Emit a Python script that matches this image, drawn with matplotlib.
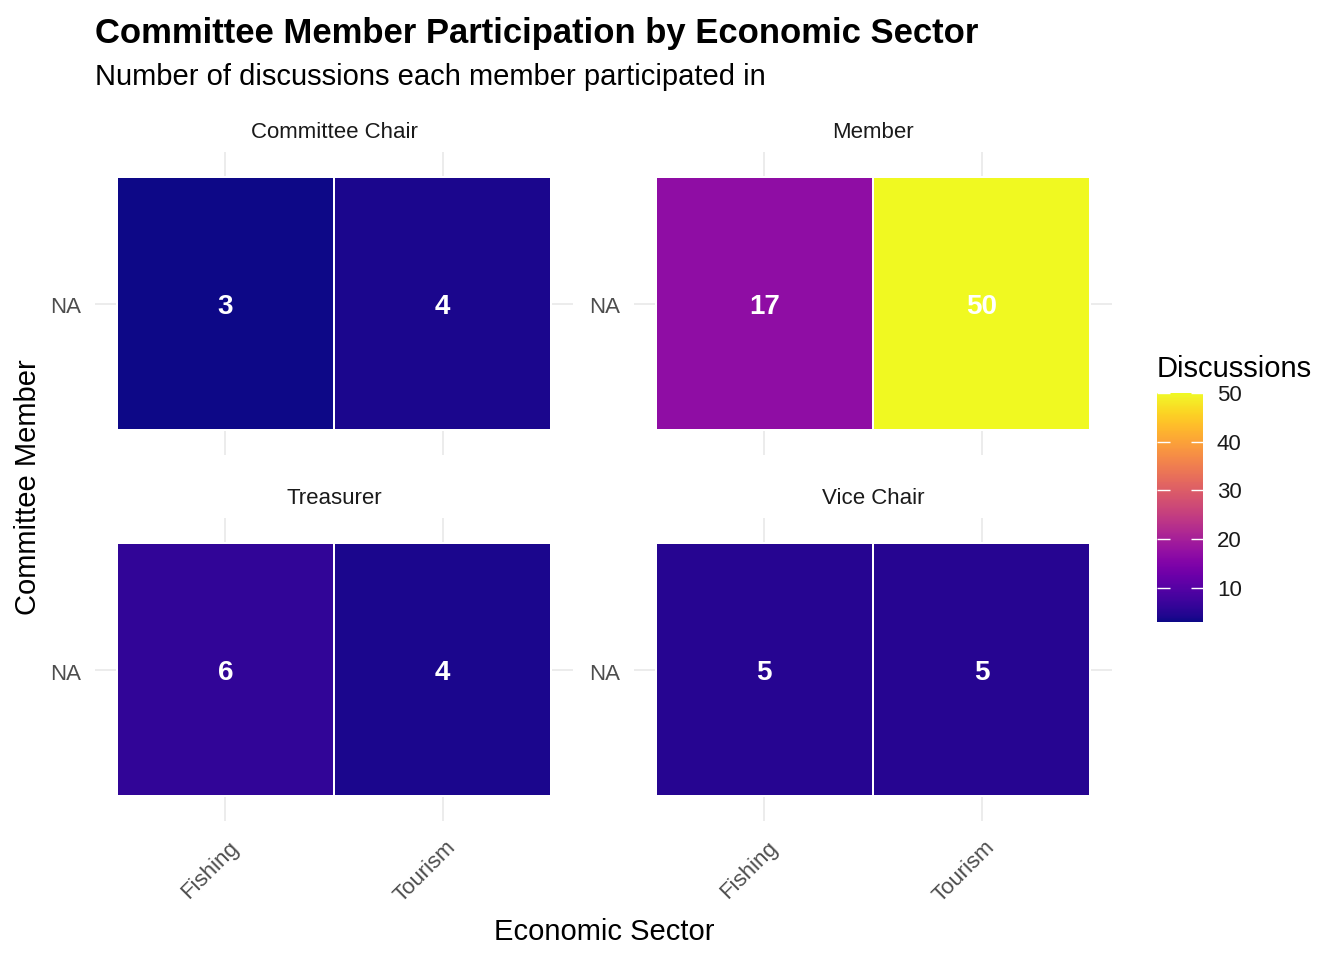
# committee participation heatmap, faceted by role

import matplotlib.pyplot as plt
from matplotlib.colors import Normalize
from matplotlib.cm import ScalarMappable
import matplotlib.transforms as mtransforms
import numpy as np

plt.rcParams['font.family'] = ['Liberation Sans', 'DejaVu Sans']

roles = ["Committee Chair", "Member", "Treasurer", "Vice Chair"]
sectors = ["Fishing", "Tourism"]
member_label = "NA"
fishing = [3, 17, 6, 5]
tourism = [4, 50, 4, 5]

W, H = 1344, 960
fig = plt.figure(figsize=(W / 100, H / 100), dpi=100)

def px_axes(x0, y0, x1, y1):
    return fig.add_axes([x0 / W, 1 - y1 / H, (x1 - x0) / W, (y1 - y0) / H])

norm = Normalize(vmin=min(fishing + tourism), vmax=max(fishing + tourism))
cmap = plt.get_cmap('plasma')

boxes = [(95, 152, 573, 455), (634, 152, 1112, 455),
         (95, 518, 573, 821), (634, 518, 1112, 821)]

down = mtransforms.ScaledTranslation(0, -2 / 100, fig.dpi_scale_trans)
nudge = mtransforms.ScaledTranslation(3 / 100, -2 / 100, fig.dpi_scale_trans)

for i, role in enumerate(roles):
    x0, y0, x1, y1 = boxes[i]
    ax = px_axes(x0, y0, x1, y1)
    vals = np.array([[fishing[i], tourism[i]]])
    ax.pcolormesh([0.5, 1.5, 2.5], [0.5, 1.5], vals, cmap=cmap, norm=norm,
                  edgecolor='white', linewidth=1.2, zorder=2)
    for j, v in enumerate(vals[0]):
        ax.text(j + 1, 1 - 4 / 253, str(v), color='white', fontsize=20,
                fontweight='bold', ha='center', va='center', zorder=3)
    ax.set_xlim(0.4, 2.6)
    ax.set_ylim(0.4, 1.6)
    ax.set_xticks([1, 2])
    ax.set_yticks([1])
    ax.grid(True, color='#EBEBEB', linewidth=1.3, zorder=0)
    ax.set_axisbelow(True)
    for s in ax.spines.values():
        s.set_visible(False)
    ax.tick_params(length=0, labelsize=16, labelcolor='#4D4D4D', pad=10)
    ax.set_yticklabels([member_label])
    for lab in ax.get_yticklabels():
        lab.set_transform(lab.get_transform() + down)
    if i >= 2:
        ax.set_xticklabels(sectors, rotation=45, ha='right', va='top',
                           rotation_mode='anchor')
        for lab in ax.get_xticklabels():
            lab.set_transform(lab.get_transform() + nudge)
    else:
        ax.set_xticklabels([])
    ax.text(0.5, 1 + (152 - 133) / (y1 - y0), role, transform=ax.transAxes,
            ha='center', va='center', fontsize=16, color='#1A1A1A')

fig.text(95 / W, 1 - 33 / H, "Committee Member Participation by Economic Sector",
         fontsize=24.9, fontweight='bold', ha='left', va='center')
fig.text(95 / W, 1 - 77 / H, "Number of discussions each member participated in",
         fontsize=21, ha='left', va='center')
fig.text(604 / W, 1 - 932 / H, "Economic Sector", fontsize=21,
         ha='center', va='center')
fig.text(28 / W, 1 - 487 / H, "Committee Member", fontsize=21,
         ha='center', va='center', rotation=90)

# colour legend
cax = px_axes(1157, 393, 1203, 622)
cb = fig.colorbar(ScalarMappable(norm=norm, cmap=cmap), cax=cax,
                  ticks=[10, 20, 30, 40, 50])
cb.outline.set_visible(False)
cax.tick_params(axis='y', direction='in', length=9, width=1, color='white',
                left=True, right=True, labelleft=False, labelright=True,
                labelsize=16, labelcolor='#1A1A1A', pad=10)
fig.text(1157 / W, 1 - 369 / H, "Discussions", fontsize=21,
         ha='left', va='center')

fig.savefig('out.png', dpi=100)
